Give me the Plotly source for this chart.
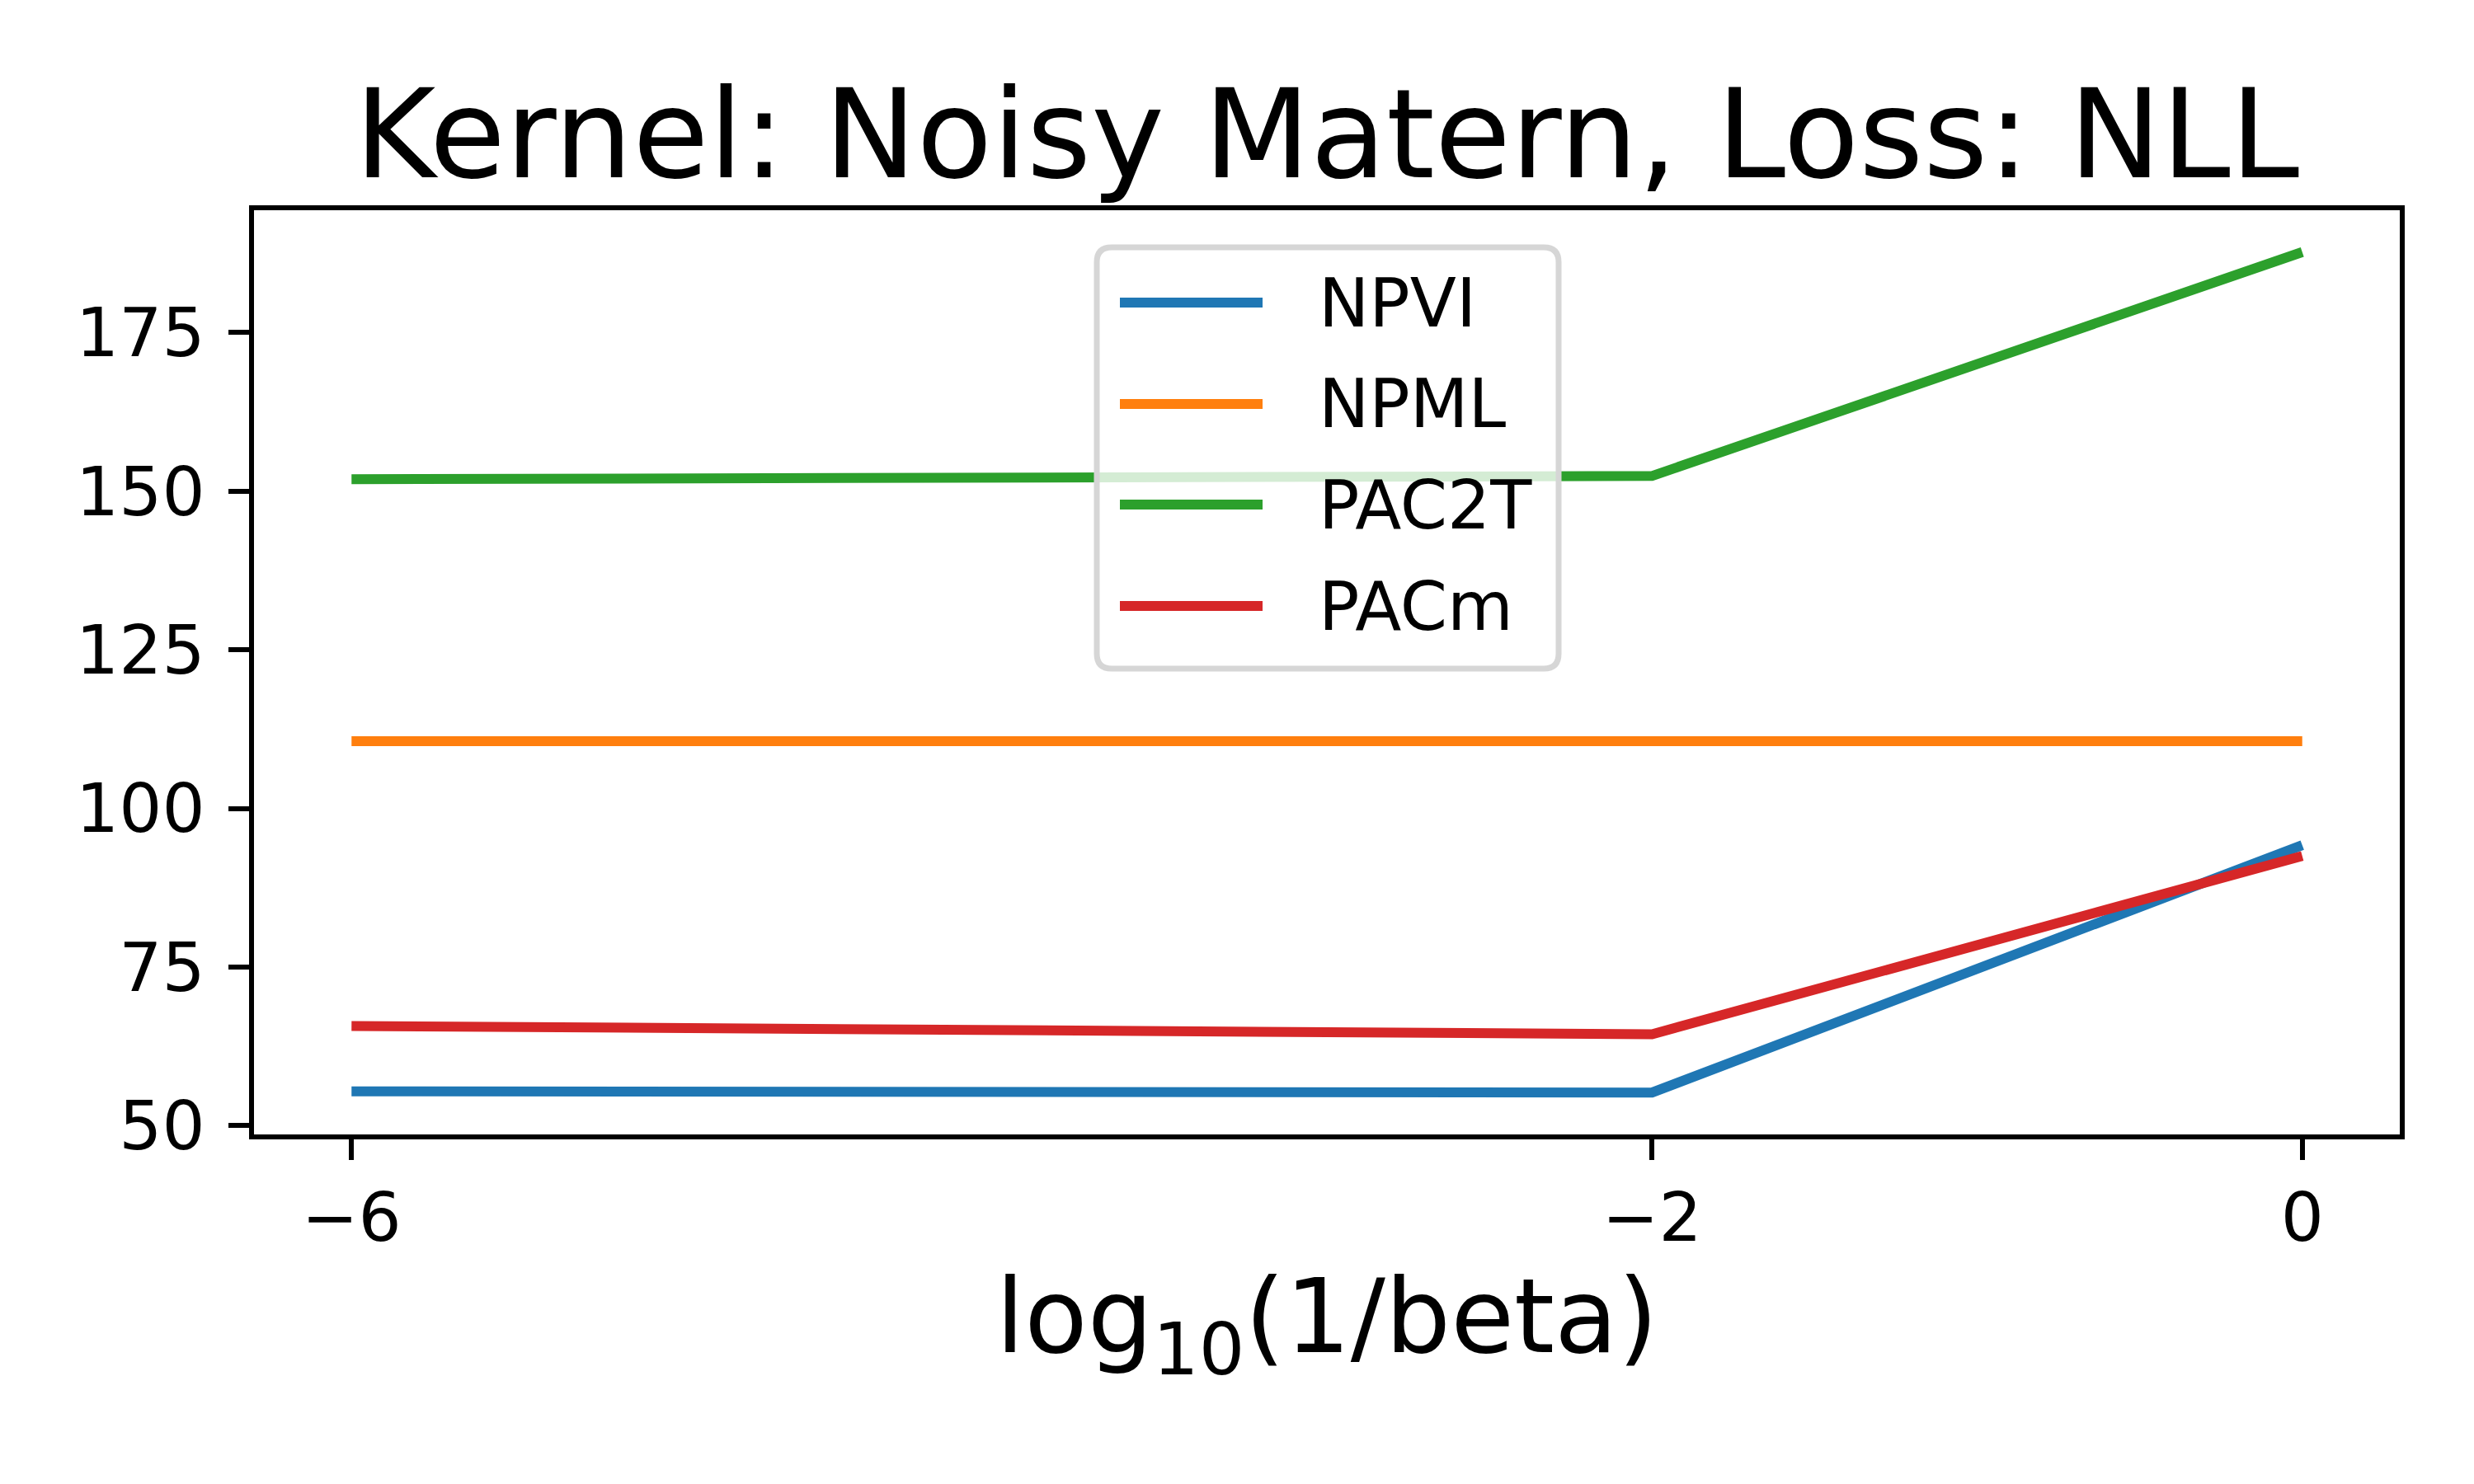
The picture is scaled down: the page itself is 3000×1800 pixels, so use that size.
import plotly.graph_objects as go

# ---- data ----
x_vals = [-6, -2, 0]
npvi = [55.4, 55.2, 94.2]
npml = [110.6, 110.6, 110.6]
pac2t = [151.9, 152.4, 187.7]
pacm = [65.7, 64.4, 92.5]

series_names = ["NPVI", "NPML", "PAC2T", "PACm"]
series_values = [npvi, npml, pac2t, pacm]
colors = ["#1f77b4", "#ff7f0e", "#2ca02c", "#d62728"]

x_tickvals = [-6, -2, 0]
x_ticktext = ["\u22126", "\u22122", "0"]
y_tickvals = [50, 75, 100, 125, 150, 175]
y_ticktext = ["50", "75", "100", "125", "150", "175"]

title_text = "Kernel: Noisy Matern, Loss: NLL"
xlabel = "log<sub>10</sub>(1/beta)"

FONT = "DejaVu Sans"
W, H = 3000, 1800
L, R, T, B = 308, 2910, 255, 1376  # plot area in px

def px_x(px):
    return (px - L) / (R - L)

def px_y(py):
    return (B - py) / (B - T)

fig = go.Figure()
for name, vals, col in zip(series_names, series_values, colors):
    fig.add_trace(go.Scatter(x=x_vals, y=vals, mode="lines", name=name,
                             line=dict(color=col, width=12), showlegend=False))

axis_common = dict(showgrid=False, zeroline=False, showline=True, linecolor="black",
                   linewidth=6, mirror=True, ticks="outside", ticklen=25, tickwidth=6,
                   tickcolor="black", tickfont=dict(family=FONT, size=82, color="black"))

fig.update_xaxes(range=[-6.3, 0.3], tickmode="array", tickvals=x_tickvals, ticktext=x_ticktext,
                 title=dict(text=xlabel, font=dict(family=FONT, size=125, color="black"), standoff=30),
                 **axis_common)
fig.update_yaxes(range=[48.6, 194.3], tickmode="array", tickvals=y_tickvals, ticktext=y_ticktext,
                 ticklabelstandoff=12, **axis_common)

# ---- legend (drawn manually to match style) ----
bx0, bx1, by0, by1 = px_x(1330), px_x(1890), px_y(811), px_y(300)
rx = 18 / (R - L)
ry = 18 / (B - T)
path = (f"M {bx0+rx},{by1} L {bx1-rx},{by1} Q {bx1},{by1} {bx1},{by1-ry} "
        f"L {bx1},{by0+ry} Q {bx1},{by0} {bx1-rx},{by0} "
        f"L {bx0+rx},{by0} Q {bx0},{by0} {bx0},{by0+ry} "
        f"L {bx0},{by1-ry} Q {bx0},{by1} {bx0+rx},{by1} Z")
fig.add_shape(type="path", path=path, xref="paper", yref="paper",
              fillcolor="rgba(255,255,255,0.8)", line=dict(color="#d6d6d6", width=7), layer="above")

entry_y = [367, 490, 612, 735]
for name, col, ey in zip(series_names, colors, entry_y):
    fig.add_shape(type="line", xref="paper", yref="paper", x0=px_x(1358), x1=px_x(1531),
                  y0=px_y(ey), y1=px_y(ey), line=dict(color=col, width=12), layer="above")
    fig.add_annotation(x=px_x(1597), y=px_y(ey), xref="paper", yref="paper", text=name,
                       showarrow=False, xanchor="left", yanchor="middle",
                       font=dict(family=FONT, size=82, color="black"))

fig.update_layout(
    width=W, height=H,
    margin=dict(l=L, r=W - R, t=T, b=H - B, autoexpand=False),
    paper_bgcolor="white", plot_bgcolor="white",
    title=dict(text=title_text, x=0.5, xref="paper", xanchor="center",
               y=1 - 215 / H, yref="container", yanchor="bottom",
               font=dict(family=FONT, size=150, color="black")),
    showlegend=False,
)

fig.write_html("out.html")
